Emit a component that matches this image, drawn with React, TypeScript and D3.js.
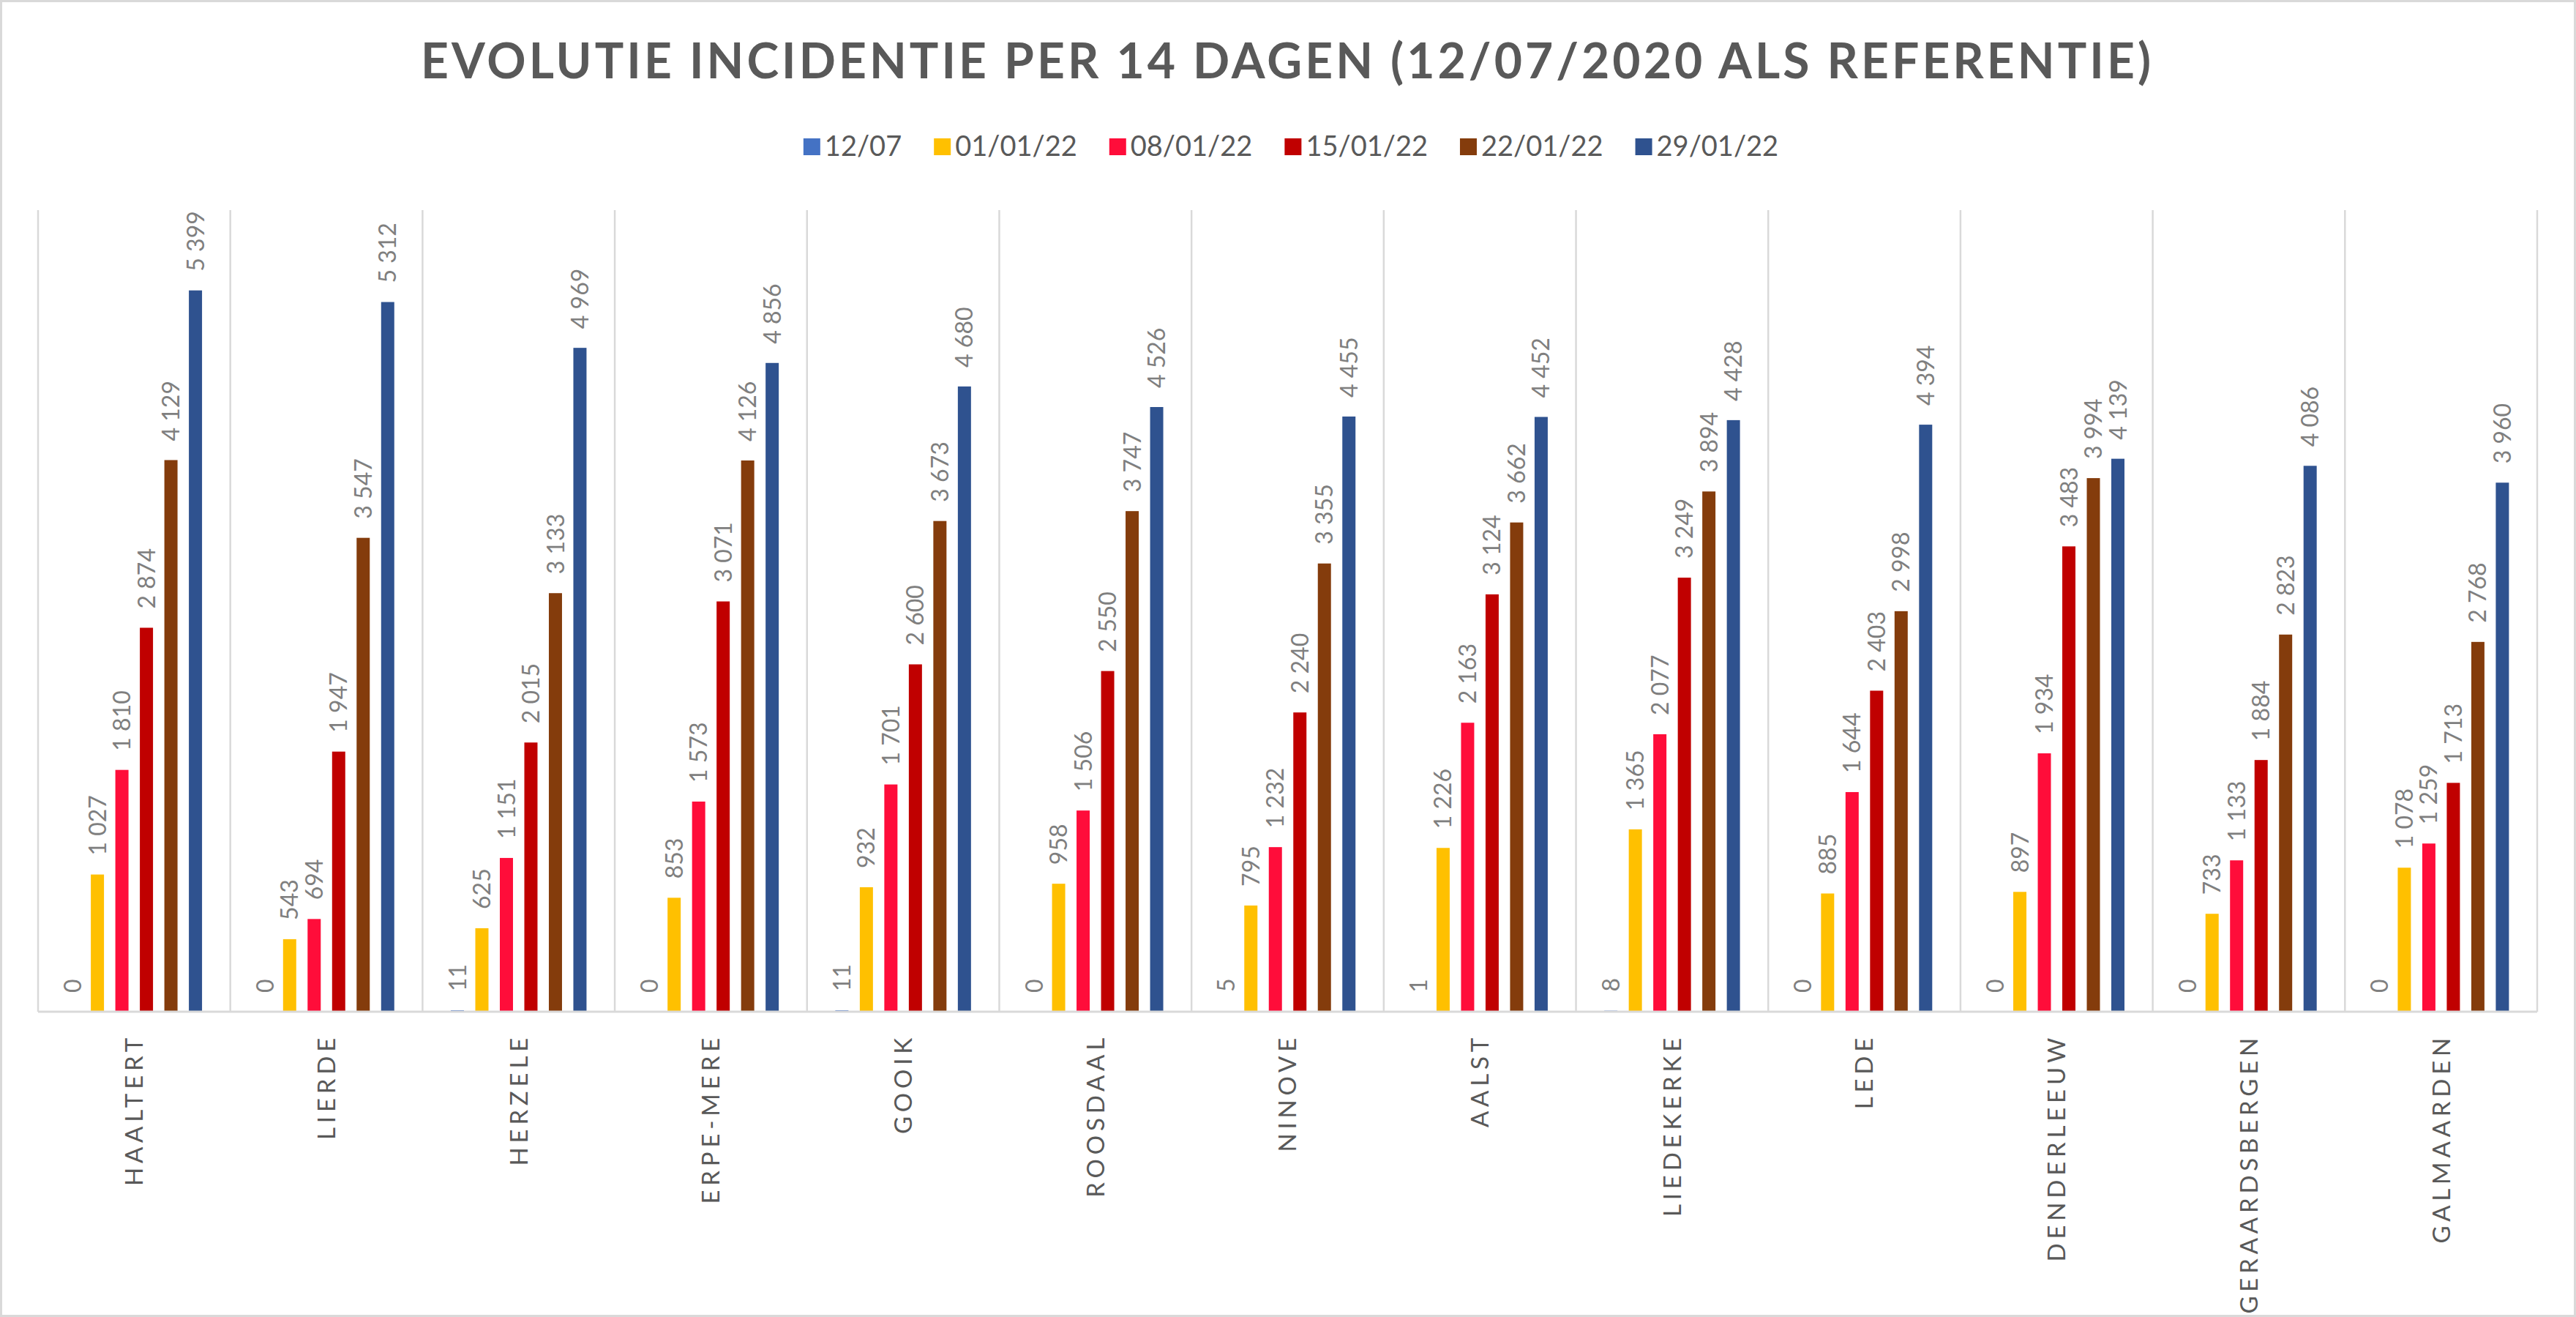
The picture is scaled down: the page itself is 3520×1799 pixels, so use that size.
import { useEffect, useRef } from 'react';
import * as d3 from 'd3';

// Gemeenten (categories on the x axis)
const municipalities = [
  'HAALTERT', 'LIERDE', 'HERZELE', 'ERPE-MERE', 'GOOIK', 'ROOSDAAL', 'NINOVE',
  'AALST', 'LIEDEKERKE', 'LEDE', 'DENDERLEEUW', 'GERAARDSBERGEN', 'GALMAARDEN',
];

// Series (dates)
const seriesNames = ['12/07', '01/01/22', '08/01/22', '15/01/22', '22/01/22', '29/01/22'];
const seriesColors = ['#4472C4', '#FFC000', '#FF0D3A', '#C00000', '#843C0C', '#2F528F'];

// Values per series, in the order of municipalities
const v1207 = [0, 0, 11, 0, 11, 0, 5, 1, 8, 0, 0, 0, 0];
const v0101 = [1027, 543, 625, 853, 932, 958, 795, 1226, 1365, 885, 897, 733, 1078];
const v0801 = [1810, 694, 1151, 1573, 1701, 1506, 1232, 2163, 2077, 1644, 1934, 1133, 1259];
const v1501 = [2874, 1947, 2015, 3071, 2600, 2550, 2240, 3124, 3249, 2403, 3483, 1884, 1713];
const v2201 = [4129, 3547, 3133, 4126, 3673, 3747, 3355, 3662, 3894, 2998, 3994, 2823, 2768];
const v2901 = [5399, 5312, 4969, 4856, 4680, 4526, 4455, 4452, 4428, 4394, 4139, 4086, 3960];

const seriesValues = [v1207, v0101, v0801, v1501, v2201, v2901];

const TITLE = 'EVOLUTIE INCIDENTIE PER 14 DAGEN (12/07/2020 ALS REFERENTIE)';

const W = 3520;
const H = 1799;
const FONT = "Lato, 'Open Sans', 'DejaVu Sans', sans-serif";

export default function App() {
  const svgRef = useRef<SVGSVGElement>(null);

  useEffect(() => {
    if (!svgRef.current) return;
    const svg = d3.select(svgRef.current);
    svg.selectAll('*').remove();

    const plot = { left: 52, right: 3467, top: 287, bottom: 1382 };

    // outer border
    svg.append('rect')
      .attr('x', 1.5).attr('y', 1.5)
      .attr('width', W - 3).attr('height', H - 3)
      .attr('fill', '#fff')
      .attr('stroke', '#d9d9d9')
      .attr('stroke-width', 3);

    // title
    svg.append('text')
      .attr('x', 1757)
      .attr('y', 107)
      .attr('text-anchor', 'middle')
      .attr('font-family', FONT)
      .attr('font-weight', 'bold')
      .attr('font-size', 66)
      .attr('fill', '#595959')
      .attr('textLength', 2364)
      .attr('lengthAdjust', 'spacing')
      .text(TITLE);

    const x0 = d3.scaleBand<string>()
      .domain(municipalities)
      .range([plot.left, plot.right])
      .paddingInner(0)
      .paddingOuter(0);

    const x1 = d3.scaleBand<string>()
      .domain(seriesNames)
      .range([0, x0.bandwidth()])
      .paddingInner(0.463)
      .paddingOuter(1.153);

    const y = d3.scaleLinear()
      .domain([0, 6000])
      .range([plot.bottom, plot.top]);

    const fmt = d3.formatLocale({
      decimal: ',',
      thousands: '\u00a0',
      grouping: [3],
      currency: ['', ''],
    }).format(',d');

    // vertical separators between categories
    const edges = municipalities.map(m => x0(m)!).concat([plot.right]);
    svg.append('g')
      .selectAll('line')
      .data(edges)
      .enter()
      .append('line')
      .attr('x1', d => d).attr('x2', d => d)
      .attr('y1', plot.top).attr('y2', plot.bottom)
      .attr('stroke', '#d9d9d9')
      .attr('stroke-width', 2.5);

    // bars + labels
    const barsG = svg.append('g');
    seriesNames.forEach((s, si) => {
      const vals = seriesValues[si];
      barsG.append('g')
        .selectAll('rect')
        .data(vals)
        .enter()
        .append('rect')
        .attr('x', (_, i) => x0(municipalities[i])! + x1(s)!)
        .attr('width', x1.bandwidth())
        .attr('y', d => y(d))
        .attr('height', d => y(0) - y(d))
        .attr('fill', seriesColors[si]);

      barsG.append('g')
        .selectAll('text')
        .data(vals)
        .enter()
        .append('text')
        .attr('transform', (d, i) => {
          const cx = x0(municipalities[i])! + x1(s)! + x1.bandwidth() / 2;
          return `translate(${cx},${y(d) - 26}) rotate(-90)`;
        })
        .attr('dy', '0.36em')
        .attr('text-anchor', 'start')
        .attr('font-family', FONT)
        .attr('font-size', 32)
        .attr('fill', '#7f7f7f')
        .text(d => fmt(d));
    });

    // baseline
    svg.append('line')
      .attr('x1', plot.left).attr('x2', plot.right)
      .attr('y1', plot.bottom).attr('y2', plot.bottom)
      .attr('stroke', '#d9d9d9')
      .attr('stroke-width', 3);

    // category labels
    svg.append('g')
      .selectAll('text')
      .data(municipalities)
      .enter()
      .append('text')
      .attr('transform', d => `translate(${x0(d)! + x0.bandwidth() / 2},${1412}) rotate(-90)`)
      .attr('dy', '0.36em')
      .attr('text-anchor', 'end')
      .attr('font-family', FONT)
      .attr('font-size', 33)
      .attr('letter-spacing', 5.8)
      .attr('fill', '#595959')
      .text(d => d);

    // legend
    const legend = svg.append('g');
    const sw = 23;
    const gapText = 6;
    const gapItem = 44;
    const items = seriesNames.map((name, i) => {
      const g = legend.append('g');
      g.append('rect')
        .attr('width', sw).attr('height', sw)
        .attr('y', 189)
        .attr('fill', seriesColors[i]);
      const t = g.append('text')
        .attr('x', sw + gapText)
        .attr('y', 213)
        .attr('font-family', FONT)
        .attr('font-size', 38)
        .attr('fill', '#595959')
        .text(name);
      const w = (t.node() as SVGTextElement).getComputedTextLength();
      return { g, w: sw + gapText + w };
    });
    const total = d3.sum(items, d => d.w) + gapItem * (items.length - 1);
    let cx = 1764 - total / 2;
    items.forEach(it => {
      it.g.attr('transform', `translate(${cx},0)`);
      cx += it.w + gapItem;
    });
  }, []);

  return (
    <svg
      ref={svgRef}
      width={W}
      height={H}
      style={{ position: 'absolute', left: 0, top: 0, display: 'block', background: '#fff' }}
    />
  );
}
